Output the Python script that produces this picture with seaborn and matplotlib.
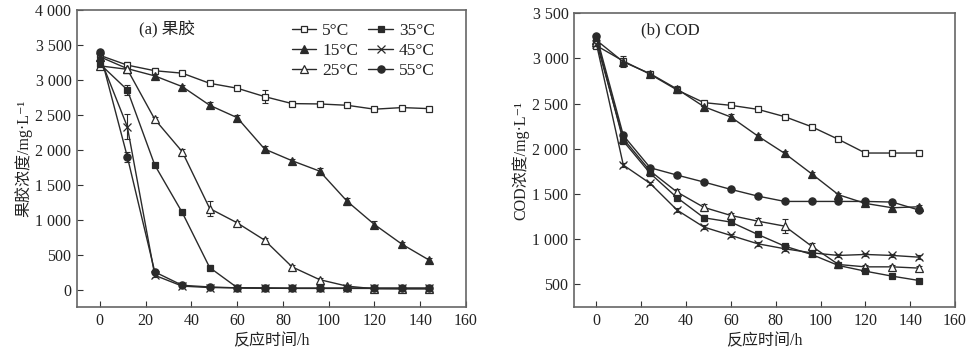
import numpy as np
import pandas as pd
import matplotlib
matplotlib.use("Agg")
import matplotlib.pyplot as plt
from matplotlib.ticker import FuncFormatter
import seaborn as sns

# ---------------- data ----------------
hours = [0, 12, 24, 36, 48, 60, 72, 84, 96, 108, 120, 132, 144]
temps = ["5°C", "15°C", "25°C", "35°C", "45°C", "55°C"]

pectin_5 = [3350, 3210, 3130, 3095, 2950, 2880, 2760, 2660, 2655, 2636, 2580, 2603, 2588]
pectin_15 = [3330, 3160, 3056, 2903, 2636, 2459, 2010, 1843, 1695, 1265, 931, 650, 420]
pectin_25 = [3200, 3150, 2435, 1972, 1160, 955, 707, 325, 143, 50, 12, 10, 10]
pectin_35 = [3228, 2856, 1781, 1103, 315, 29, 22, 18, 18, 18, 18, 18, 18]
pectin_45 = [3320, 2330, 205, 50, 30, 25, 20, 18, 18, 18, 18, 18, 18]
pectin_55 = [3395, 1900, 253, 62, 38, 25, 22, 20, 20, 20, 20, 20, 20]
pectin_err_5 = [30, 40, 40, 30, 30, 30, 90, 30, 30, 30, 30, 20, 20]
pectin_err_15 = [30, 30, 40, 30, 40, 40, 40, 30, 50, 50, 50, 30, 30]
pectin_err_25 = [40, 40, 40, 40, 110, 30, 30, 30, 30, 20, 10, 10, 10]
pectin_err_35 = [30, 70, 30, 30, 30, 10, 10, 10, 10, 10, 10, 10, 10]
pectin_err_45 = [30, 180, 30, 10, 10, 10, 10, 10, 10, 10, 10, 10, 10]
pectin_err_55 = [30, 70, 30, 10, 10, 10, 10, 10, 10, 10, 10, 10, 10]

cod_5 = [3140, 2970, 2823, 2650, 2510, 2480, 2436, 2355, 2244, 2104, 1953, 1953, 1953]
cod_15 = [3200, 2960, 2830, 2660, 2465, 2351, 2141, 1949, 1724, 1492, 1396, 1348, 1359]
cod_25 = [3180, 2111, 1754, 1521, 1352, 1263, 1200, 1145, 924, 721, 695, 695, 681]
cod_35 = [3220, 2085, 1728, 1459, 1237, 1190, 1053, 924, 832, 710, 647, 592, 544]
cod_45 = [3160, 1820, 1617, 1322, 1134, 1042, 950, 895, 850, 821, 832, 821, 802]
cod_55 = [3250, 2148, 1790, 1709, 1632, 1551, 1477, 1418, 1418, 1418, 1418, 1411, 1322]
cod_err_5 = [20, 20, 20, 20, 20, 20, 20, 20, 20, 20, 20, 20, 20]
cod_err_15 = [30, 60, 20, 30, 20, 30, 20, 30, 20, 20, 20, 30, 20]
cod_err_25 = [30, 30, 30, 30, 40, 30, 30, 80, 30, 20, 20, 20, 20]
cod_err_35 = [20, 20, 30, 30, 30, 20, 20, 20, 20, 20, 20, 20, 20]
cod_err_45 = [20, 20, 20, 20, 20, 20, 20, 20, 20, 20, 20, 20, 20]
cod_err_55 = [20, 30, 20, 20, 20, 20, 20, 20, 20, 20, 20, 20, 20]

pectin_vals = [pectin_5, pectin_15, pectin_25, pectin_35, pectin_45, pectin_55]
pectin_errs = [pectin_err_5, pectin_err_15, pectin_err_25, pectin_err_35, pectin_err_45, pectin_err_55]
cod_vals = [cod_5, cod_15, cod_25, cod_35, cod_45, cod_55]
cod_errs = [cod_err_5, cod_err_15, cod_err_25, cod_err_35, cod_err_45, cod_err_55]

x_ticks = [0, 20, 40, 60, 80, 100, 120, 140, 160]
pectin_ticks = [0, 500, 1000, 1500, 2000, 2500, 3000, 3500, 4000]
cod_ticks = [500, 1000, 1500, 2000, 2500, 3000, 3500]

# ---------------- style ----------------
sns.set_theme(style="ticks")
plt.rcParams["font.family"] = ["Liberation Serif", "Noto Sans CJK SC", "DejaVu Sans"]
plt.rcParams["axes.unicode_minus"] = False

line_c = "#2a2a2a"
txt_c = "#222222"
styles = {
    "5°C": dict(marker="s", mfc="white"),
    "15°C": dict(marker="^", mfc=line_c),
    "25°C": dict(marker="^", mfc="white"),
    "35°C": dict(marker="s", mfc=line_c),
    "45°C": dict(marker="x", mfc=line_c),
    "55°C": dict(marker="o", mfc=line_c),
}

fig = plt.figure(figsize=(9.67, 3.53), dpi=100)
ax1 = fig.add_axes([0.0796, 0.130, 0.4023, 0.842])
ax2 = fig.add_axes([0.5936, 0.130, 0.3940, 0.833])


def thousands(v, pos):
    s = f"{int(round(v)):,}"
    return s.replace(",", " ")


def draw(ax, vals, errs):
    for t, v, e in zip(temps, vals, errs):
        df = pd.DataFrame({"h": hours, "v": v})
        st = styles[t]
        ms = {"s": 4.8, "o": 5.2, "^": 5.8, "x": 5.5}[st["marker"]]
        ax.errorbar(hours, v, yerr=e, fmt="none", ecolor=line_c, elinewidth=0.8,
                    capsize=2.5, capthick=0.8, zorder=2)
        sns.lineplot(data=df, x="h", y="v", ax=ax, color=line_c, lw=1.0,
                     marker=st["marker"], markersize=ms, markerfacecolor=st["mfc"],
                     markeredgecolor=line_c, markeredgewidth=0.9, label=t,
                     legend=False, zorder=3)


draw(ax1, pectin_vals, pectin_errs)
draw(ax2, cod_vals, cod_errs)

for ax in (ax1, ax2):
    ax.set_xlim(-10, 160)
    ax.set_xticks(x_ticks)
    ax.yaxis.set_major_formatter(FuncFormatter(thousands))
    ax.tick_params(direction="in", length=4, width=0.8, colors="#333333",
                   labelsize=11.5, labelcolor=txt_c, pad=4)
    for sp in ax.spines.values():
        sp.set_color("#666666")
        sp.set_linewidth(1.2)
    ax.set_xlabel("反应时间/h", fontsize=11.5, color=txt_c, labelpad=3)

ax1.set_ylim(-250, 4000)
ax1.set_yticks(pectin_ticks)
ax2.set_ylim(250, 3500)
ax2.set_yticks(cod_ticks)

ax1.set_ylabel("果胶浓度/mg·L⁻¹", fontsize=11.5, color=txt_c, labelpad=2)
ax2.set_ylabel("COD浓度/mg·L⁻¹", fontsize=11.5, color=txt_c, labelpad=2)

ax1.text(0.16, 0.935, "(a) 果胶", transform=ax1.transAxes, fontsize=12,
         va="center", ha="left", color=txt_c)
ax2.text(0.176, 0.942, "(b) COD", transform=ax2.transAxes, fontsize=12,
         va="center", ha="left", color=txt_c)

handles, labels = ax1.get_legend_handles_labels()
hl = [(h, l) for h, l in zip(handles, labels) if l in temps]
ax1.legend([h for h, _ in hl], [l for _, l in hl], ncol=2, frameon=False,
           loc="upper left", bbox_to_anchor=(0.525, 0.99), fontsize=12.5,
           handlelength=1.4, handletextpad=0.35, columnspacing=0.6,
           labelspacing=0.2, borderaxespad=0.2, labelcolor=txt_c)

fig.savefig("out.png", dpi=100)
